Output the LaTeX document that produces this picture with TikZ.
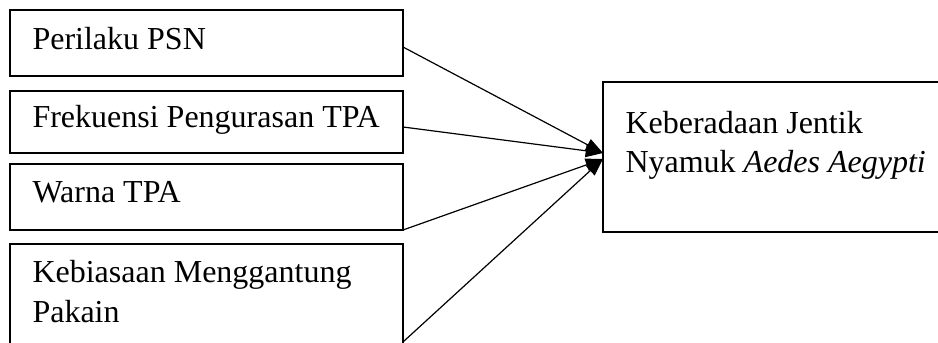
\documentclass[tikz,border=0pt]{standalone}
\usepackage{fontspec}
\setmainfont{Liberation Serif}
\usetikzlibrary{arrows.meta}
\begin{document}
\begin{tikzpicture}[x=0.375pt,y=-0.375pt,
  box/.style={draw,line width=0.9pt,rectangle,inner sep=0pt,outer sep=0pt,anchor=north west},
  txt/.style={inner sep=0pt,anchor=base west,font=\fontsize{12pt}{15pt}\selectfont},
  link/.style={line width=0.45pt,-{Triangle[length=6.5pt,width=4.8pt]}}]
\useasboundingbox (0,0) rectangle (938,343);
% factor boxes
\node[box,minimum width=147.375pt,minimum height=24.75pt] (b1) at (10,10) {};
\node[box,minimum width=147.375pt,minimum height=23.25pt] (b2) at (10,91) {};
\node[box,minimum width=147.375pt,minimum height=24.75pt] (b3) at (10,164) {};
\node[box,minimum width=147.375pt,minimum height=47.25pt] (b4) at (10,244) {};
% outcome box
\node[box,minimum width=133.875pt,minimum height=56.25pt] (r) at (603,82) {};
% labels
\node[txt] (t1) at (32,50) {Perilaku PSN};
\node[txt] (t2) at (32,128) {Frekuensi Pengurasan TPA};
\node[txt] (t3) at (32,203) {Warna TPA};
\node[txt] (t4a) at (32,283) {Kebiasaan Menggantung};
\node[txt] (t4b) at (32,323) {Pakain};
\node[txt] (r1) at (625,134) {Keberadaan Jentik};
\node[txt] (r2) at (625,173) {Nyamuk \textit{Aedes Aegypti}};
% connector ends
\coordinate (s1) at (b1.east |- 0,47);
\coordinate (s2) at (b2.east |- 0,127);
\coordinate (s3) at (b3.south east);
\coordinate (s4) at (b4.east |- 0,342);
\coordinate (e1) at (r.west |- 0,153);
\coordinate (e2) at (r.west |- 0,159);
\draw[link] (s1) -- (e1);
\draw[link] (s2) -- (e1);
\draw[link] (s3) -- (e2);
\draw[link] (s4) -- (e2);
\end{tikzpicture}
\end{document}
